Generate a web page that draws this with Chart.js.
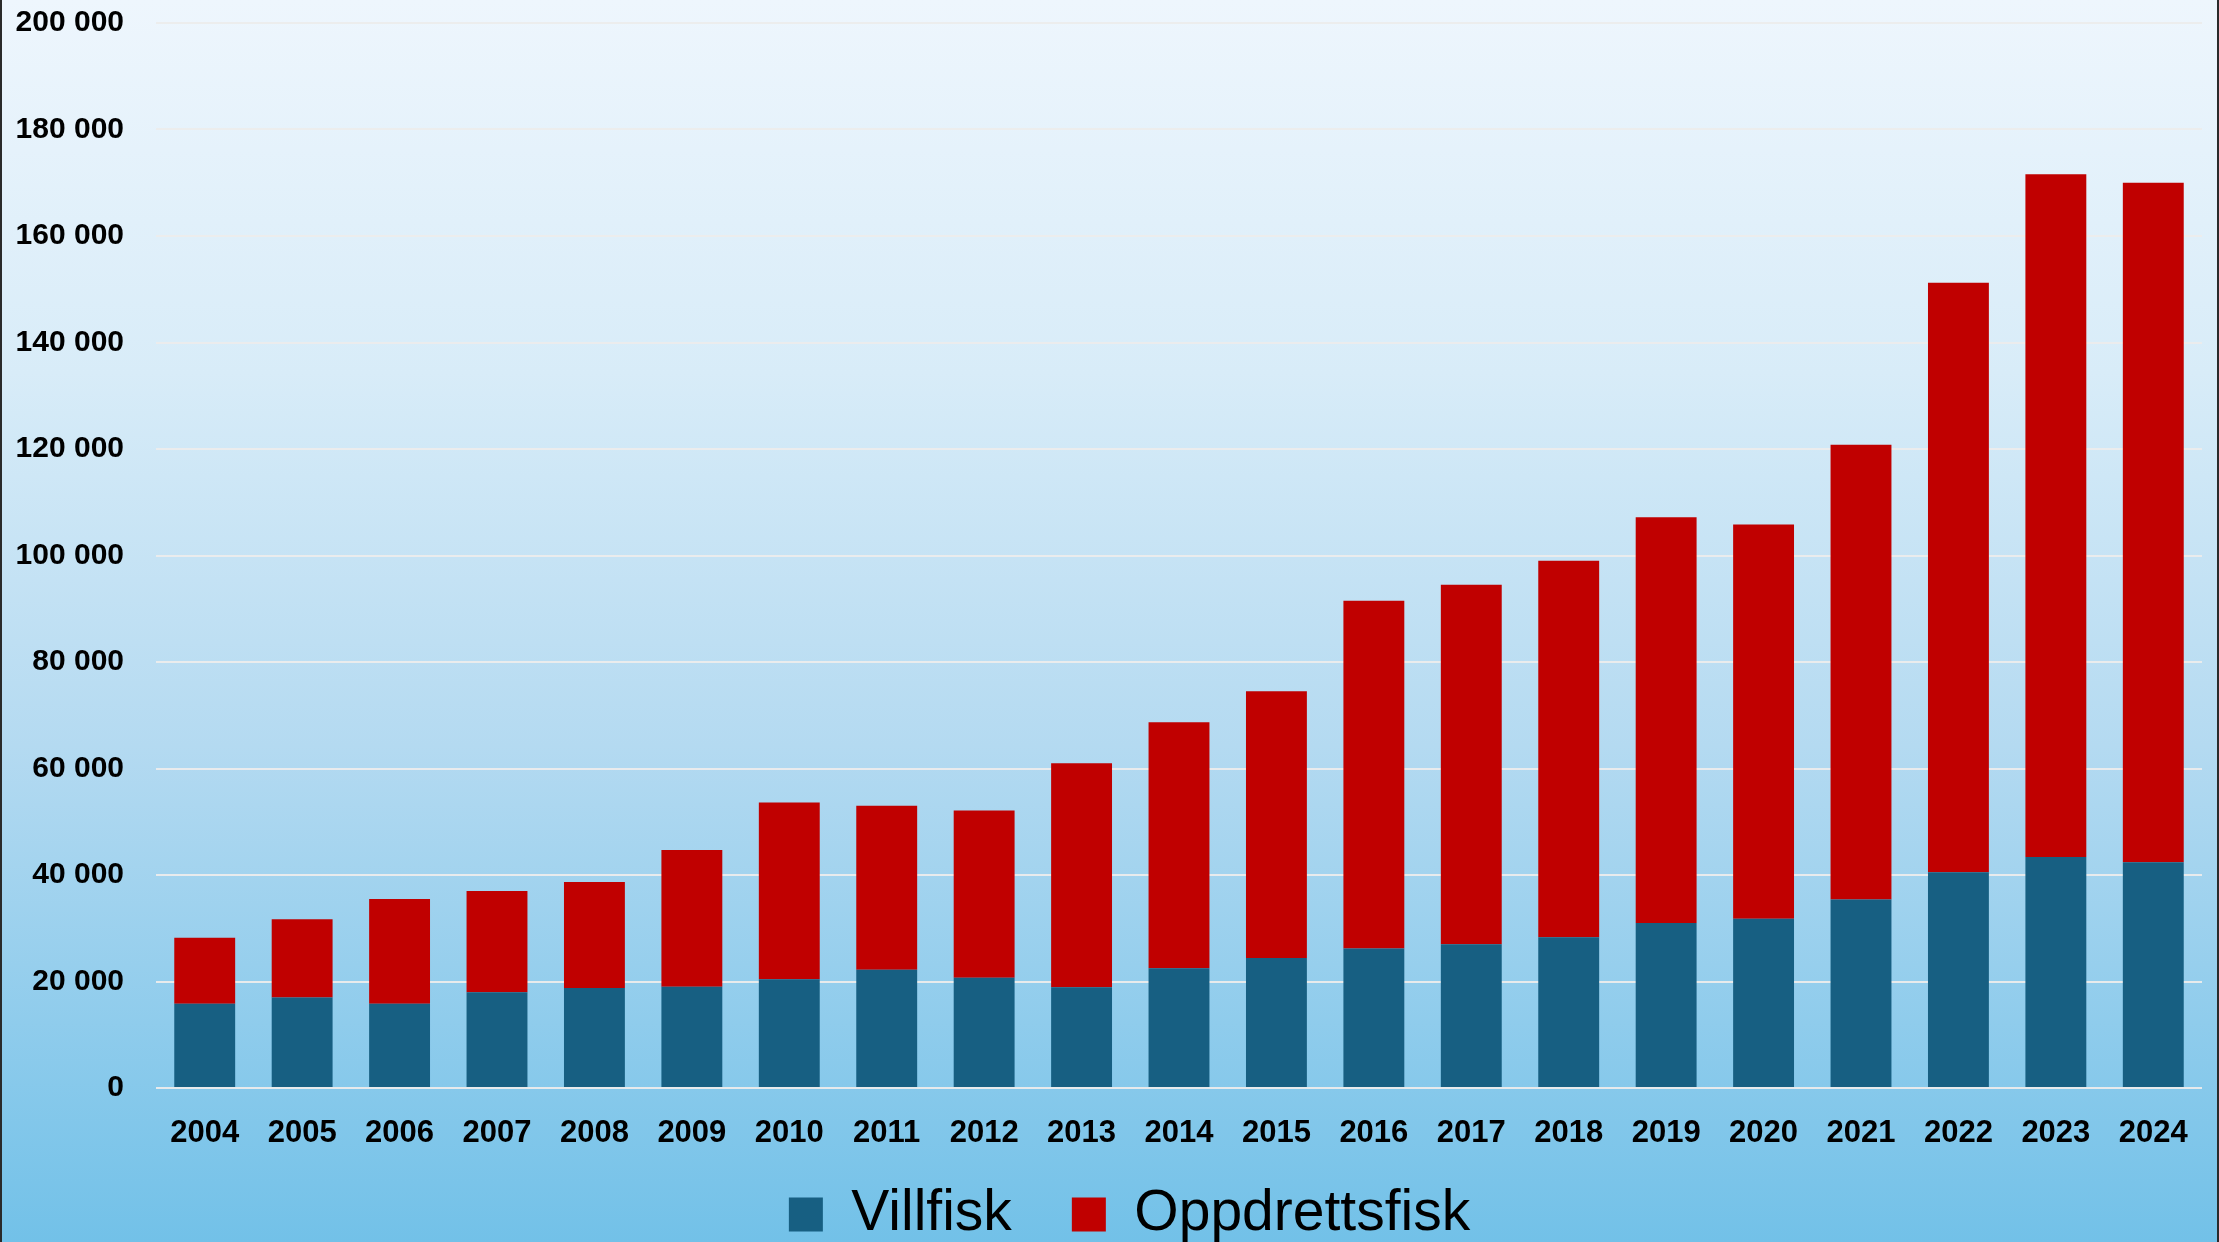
<!DOCTYPE html>
<html>
<head>
<meta charset="utf-8">
<script src="https://cdn.jsdelivr.net/npm/chart.js@4.4.1/dist/chart.umd.min.js"></script>
<style>
    html, body { margin: 0; padding: 0; overflow: hidden; }
    .wrap {
        position: relative;
        width: 2219px;
        height: 1242px;
        background: linear-gradient(to bottom, #eef6fd 0%, #d8ecf8 30%, #b4daf1 60%, #72c1e8 100%);
    }
    .frame {
        position: absolute;
        left: 0; top: 0; right: 0; bottom: 0;
        border-left: 2px solid #2a2a2a;
        border-right: 2px solid #2a2a2a;
        pointer-events: none;
    }
    canvas { position: absolute; left: 0; top: 0; }
</style>
</head>
<body>
<div class="wrap">
    <canvas id="fisk" width="2219" height="1242"></canvas>
    <div class="frame"></div>
</div>
<script>
    "use strict";

    // Data
    var years = ["2004", "2005", "2006", "2007", "2008", "2009", "2010", "2011", "2012", "2013",
                 "2014", "2015", "2016", "2017", "2018", "2019", "2020", "2021", "2022", "2023", "2024"];
    var villfisk = [15800, 17000, 15800, 18000, 18800, 19000, 20400, 22200, 20700, 18900,
                    22500, 24400, 26200, 27000, 28300, 31000, 31800, 35400, 40500, 43400, 42400];
    var oppdrettsfisk = [12400, 14700, 19700, 19000, 19900, 25700, 33200, 30800, 31400, 42100,
                         46200, 50100, 65300, 67500, 70700, 76200, 74000, 85400, 110700, 128200, 127600];
    var yTicks = [0, 20000, 40000, 60000, 80000, 100000, 120000, 140000, 160000, 180000, 200000];

    var font = "'Liberation Sans', Arial, sans-serif";

    // thousands with a space: 200 000
    var fmt = function (v) {
        return String(v).replace(/\B(?=(\d{3})+(?!\d))/g, " ");
    };

    // let the tick labels spill outside their (narrow) scale boxes
    var unclip = {
        id: "unclip",
        afterLayout: function (chart) {
            chart.scales.y.left = 0;
            chart.scales.x.bottom = chart.height;
        }
    };

    var ctx = document.getElementById("fisk").getContext("2d");
    var chart = new Chart(ctx, {
        type: "bar",
        data: {
            labels: years,
            datasets: [{
                    label: "Villfisk",
                    data: villfisk,
                    backgroundColor: "#175f82"
                },
                {
                    label: "Oppdrettsfisk",
                    data: oppdrettsfisk,
                    backgroundColor: "#c00000"
                }
            ]
        },
        options: {
            responsive: false,
            animation: false,
            layout: {
                padding: {left: 57, right: 17, top: 23, bottom: -11}
            },
            datasets: {
                bar: {categoryPercentage: 1, barPercentage: 0.625}
            },
            scales: {
                x: {
                    stacked: true,
                    grid: {display: false},
                    border: {display: false},
                    ticks: {
                        color: "#000",
                        padding: 19,
                        maxRotation: 0,
                        font: {family: font, size: 31, weight: "bold"}
                    },
                    afterFit: function (scale) { scale.height = 38; }
                },
                y: {
                    stacked: true,
                    min: 0,
                    max: 200000,
                    afterBuildTicks: function (scale) {
                        scale.ticks = yTicks.map(function (v) { return {value: v}; });
                    },
                    grid: {
                        color: "rgba(236, 236, 236, 0.95)",
                        lineWidth: 2,
                        drawTicks: true,
                        tickLength: 27,
                        tickColor: "rgba(0, 0, 0, 0)"
                    },
                    border: {display: false},
                    ticks: {
                        color: "#000",
                        padding: 5,
                        font: {family: font, size: 30, weight: "bold"},
                        callback: function (v) { return fmt(v); }
                    },
                    afterFit: function (scale) { scale.width = 99; }
                }
            },
            plugins: {
                legend: {
                    position: "bottom",
                    labels: {
                        color: "#000",
                        boxWidth: 34,
                        boxHeight: 34,
                        padding: 60,
                        font: {family: font, size: 57}
                    }
                },
                tooltip: {enabled: false}
            }
        },
        plugins: [unclip]
    });
</script>
</body>
</html>
